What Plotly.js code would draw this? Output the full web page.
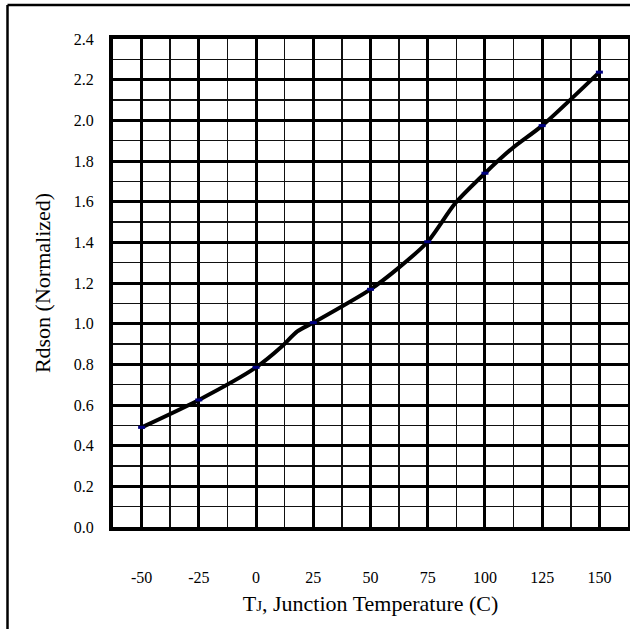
<!DOCTYPE html>
<html>
<head>
<meta charset="utf-8">
<script src="https://cdn.plot.ly/plotly-3.0.1.min.js"></script>
<style>html,body{margin:0;padding:0;background:#fff;}#chart{width:630px;height:629px;}</style>
</head>
<body>
<div id="chart"></div>
<script>
// Measured data points (markers)
const pointTemps = [-50, -25, 0, 25, 50, 75, 100, 125, 150];
const pointRdson = [0.49, 0.625, 0.785, 1.005, 1.169, 1.403, 1.74, 1.974, 2.237];

// Curve as drawn
const curveTemps = [-50, -25, 0, 11, 18, 25, 50, 62, 75, 87, 100, 112, 125, 150];
const curveRdson = [0.49, 0.625, 0.785, 0.885, 0.962, 1.005, 1.169, 1.272, 1.403, 1.592, 1.74, 1.863, 1.974, 2.237];

const xTicks = [-50, -25, 0, 25, 50, 75, 100, 125, 150];
const xTickText = ['-50', '-25', '0', '25', '50', '75', '100', '125', '150'];
const yTicks = [0, 0.2, 0.4, 0.6, 0.8, 1.0, 1.2, 1.4, 1.6, 1.8, 2.0, 2.2, 2.4];
const yTickText = ['0.0', '0.2', '0.4', '0.6', '0.8', '1.0', '1.2', '1.4', '1.6', '1.8', '2.0', '2.2', '2.4'];

const FONT = '"Liberation Serif", "Times New Roman", serif';

const traces = [
  {
    x: curveTemps, y: curveRdson, type: 'scatter', mode: 'lines',
    line: {color: '#000000', width: 4, shape: 'spline', smoothing: 0.7},
    hoverinfo: 'skip', showlegend: false
  },
  {
    x: pointTemps, y: pointRdson, type: 'scatter', mode: 'markers',
    marker: {symbol: 'line-ew', size: 5, color: '#000080', line: {color: '#000080', width: 3}},
    showlegend: false
  }
];

const layout = {
  width: 630, height: 629,
  margin: {l: 113, r: 2, t: 39, b: 102},
  paper_bgcolor: '#ffffff', plot_bgcolor: '#ffffff',
  font: {family: FONT, color: '#000000', size: 16},
  showlegend: false,
  xaxis: {
    range: [-62.5, 162.5], tickmode: 'array', tickvals: xTicks, ticktext: xTickText,
    showgrid: true, gridcolor: '#000000', gridwidth: 3,
    minor: {tickmode: 'linear', tick0: -62.5, dtick: 25, showgrid: true, gridcolor: '#111111', gridwidth: 1.6},
    zeroline: false, showline: true, mirror: true, linecolor: '#000000', linewidth: 4,
    ticks: '', ticklabelstandoff: 33, tickfont: {size: 16, family: FONT},
    title: {text: 'T<span style="font-size:15px">J</span>, Junction Temperature (C)', font: {size: 22, family: FONT}, standoff: 11},
    automargin: false
  },
  yaxis: {
    range: [0, 2.4], tickmode: 'array', tickvals: yTicks, ticktext: yTickText,
    showgrid: true, gridcolor: '#000000', gridwidth: 3,
    minor: {tickmode: 'linear', tick0: 0.1, dtick: 0.2, showgrid: true, gridcolor: '#111111', gridwidth: 1.6},
    zeroline: false, showline: true, mirror: true, linecolor: '#000000', linewidth: 4,
    ticks: '', ticklabelstandoff: 12, tickfont: {size: 16, family: FONT},
    title: {text: 'Rdson (Normalized)', font: {size: 22, family: FONT}, standoff: 18},
    automargin: false
  },
  shapes: [
    {type: 'line', xref: 'paper', yref: 'paper', x0: (7.5 - 113) / 515, x1: (7.5 - 113) / 515, y0: (527 - 5) / 488, y1: (527 - 640) / 488, line: {color: '#000000', width: 2.5}},
    {type: 'line', xref: 'paper', yref: 'paper', x0: (7.5 - 113) / 515, x1: (640 - 113) / 515, y0: (527 - 5) / 488, y1: (527 - 5) / 488, line: {color: '#000000', width: 2.5}}
  ]
};

Plotly.newPlot('chart', traces, layout, {displayModeBar: false, staticPlot: true});
</script>
</body>
</html>
